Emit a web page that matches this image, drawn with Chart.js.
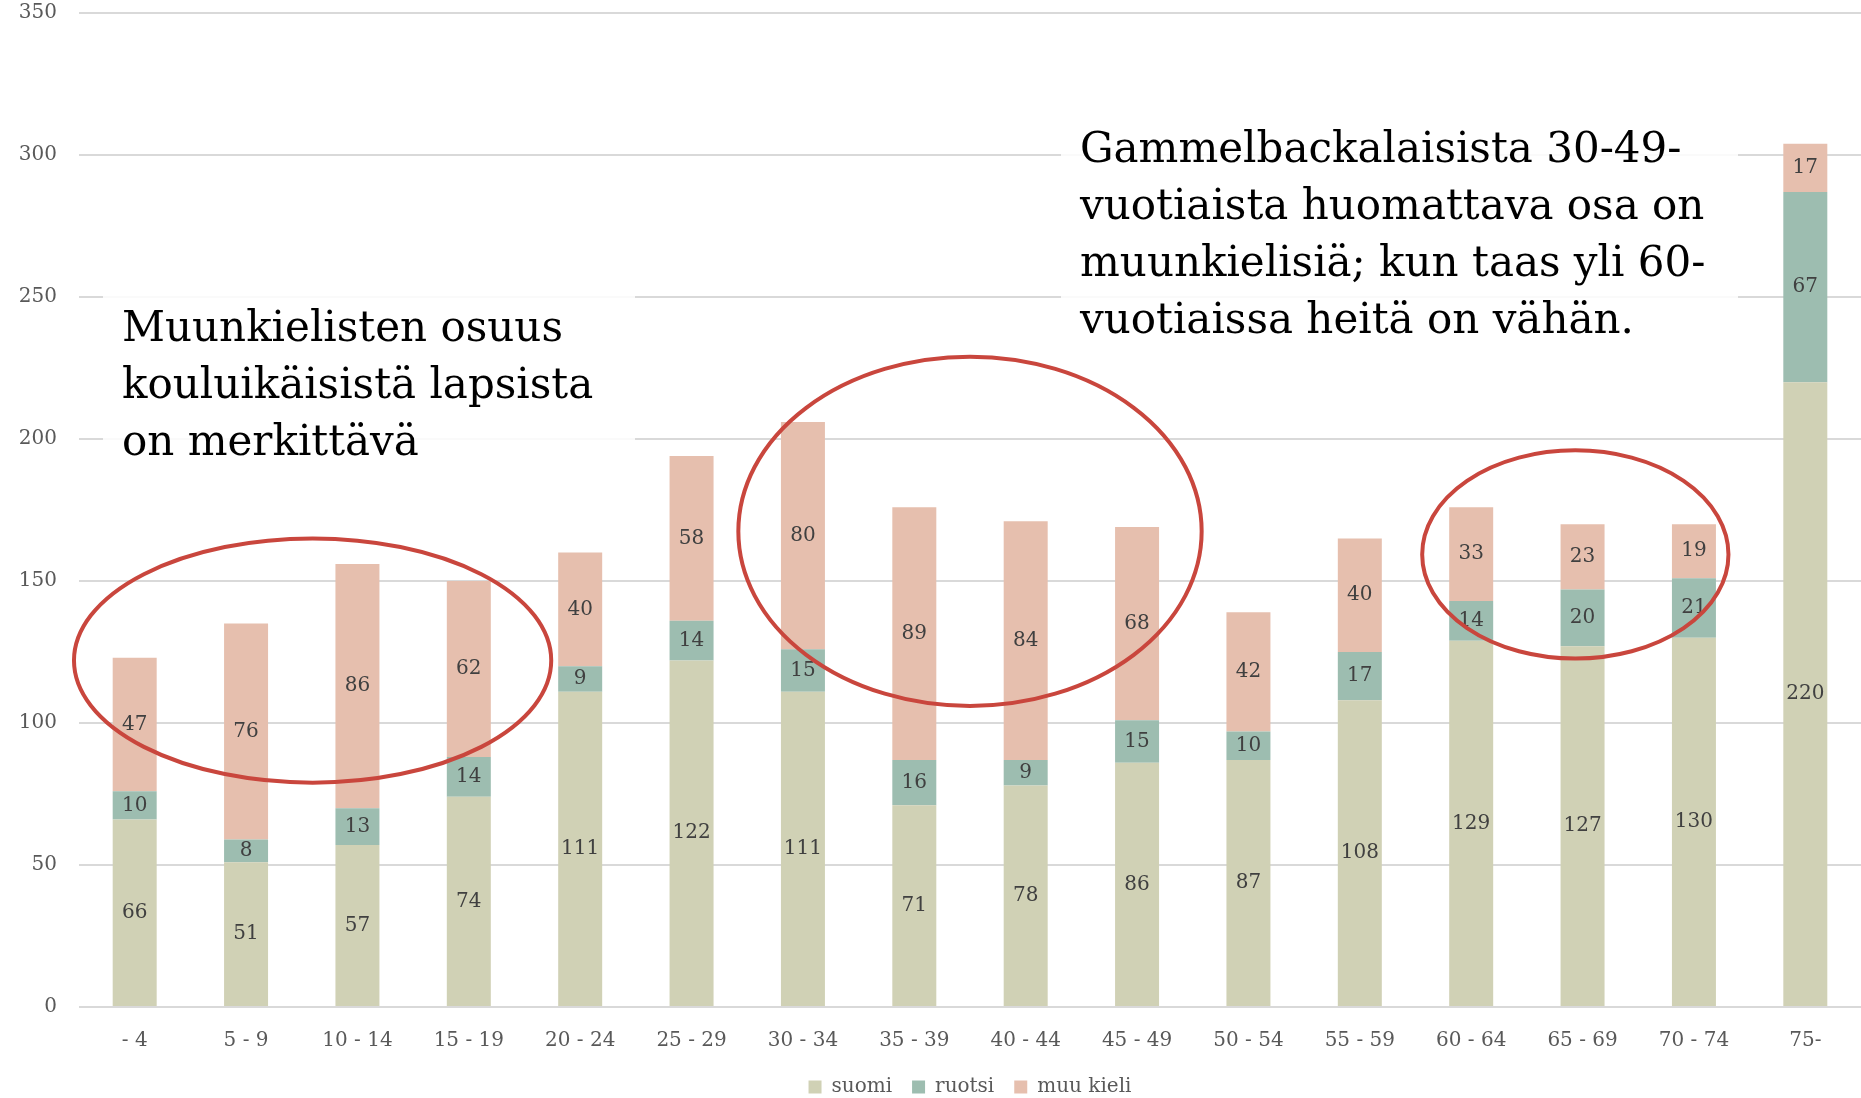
<!DOCTYPE html>
<html>
<head>
<meta charset="utf-8">
<script src="https://cdn.jsdelivr.net/npm/chart.js@4/dist/chart.umd.min.js"></script>
<style>
  html, body { margin: 0; padding: 0; background: #fff; }
  #wrap { width: 1861px; height: 1098px; }
</style>
</head>
<body>
<div id="wrap"><canvas id="chart"></canvas></div>
<script>
const ageGroups = ["- 4", "5 - 9", "10 - 14", "15 - 19", "20 - 24", "25 - 29", "30 - 34", "35 - 39",
  "40 - 44", "45 - 49", "50 - 54", "55 - 59", "60 - 64", "65 - 69", "70 - 74", "75-"];
const suomi = [66, 51, 57, 74, 111, 122, 111, 71, 78, 86, 87, 108, 129, 127, 130, 220];
const ruotsi = [10, 8, 13, 14, 9, 14, 15, 16, 9, 15, 10, 17, 14, 20, 21, 67];
const muuKieli = [47, 76, 86, 62, 40, 58, 80, 89, 84, 68, 42, 40, 33, 23, 19, 17];
const yMax = 350;
const yStep = 50;

const noteLeft = ["Muunkielisten osuus", "kouluikäisistä lapsista", "on merkittävä"];
const noteRight = ["Gammelbackalaisista 30-49-", "vuotiaista huomattava osa on",
  "muunkielisiä; kun taas yli 60-", "vuotiaissa heitä on vähän."];

const serif = "'DejaVu Serif', Georgia, serif";
Chart.defaults.font.family = serif;
Chart.defaults.color = "#595959";

// ellipses given as [fromIndex, toIndex, lowValue, highValue]
const rings = [
  [-0.545, 3.74, 79, 165],
  [5.42, 9.58, 106, 229],
  [11.56, 14.31, 122.7, 196],
];

const overlay = {
  id: "overlay",
  beforeDatasetsDraw(chart) {
    const c = chart.ctx;
    c.save();
    c.fillStyle = "rgba(255,255,255,0.85)";
    c.fillRect(103, 284, 532, 188);
    c.fillRect(1061, 116, 677, 232);
    c.restore();
  },
  afterDatasetsDraw(chart) {
    const c = chart.ctx;
    c.save();
    // values inside the bars
    c.font = "20px " + serif;
    c.fillStyle = "#404040";
    c.textAlign = "center";
    c.textBaseline = "middle";
    chart.data.datasets.forEach((ds, i) => {
      chart.getDatasetMeta(i).data.forEach((bar, j) => {
        c.fillText(ds.data[j], bar.x, (bar.y + bar.base) / 2);
      });
    });

    // red rings
    const xs = chart.scales.x, ys = chart.scales.y;
    c.strokeStyle = "#c9463d";
    c.lineWidth = 4;
    rings.forEach(([a, b, lo, hi]) => {
      const x1 = xs.getPixelForValue(a), x2 = xs.getPixelForValue(b);
      const y1 = ys.getPixelForValue(hi), y2 = ys.getPixelForValue(lo);
      c.beginPath();
      c.ellipse((x1 + x2) / 2, (y1 + y2) / 2, (x2 - x1) / 2, (y2 - y1) / 2, 0, 0, Math.PI * 2);
      c.stroke();
    });

    // notes
    c.font = "42px " + serif;
    c.fillStyle = "#000";
    c.textAlign = "left";
    noteLeft.forEach((t, k) => c.fillText(t, 122, 330 + k * 57));
    noteRight.forEach((t, k) => c.fillText(t, 1080, 151 + k * 57));
    c.restore();
  },
};

new Chart(document.getElementById("chart"), {
  type: "bar",
  data: {
    labels: ageGroups,
    datasets: [
      { label: "suomi", data: suomi, backgroundColor: "#d0d1b5" },
      { label: "ruotsi", data: ruotsi, backgroundColor: "#9dbdb0" },
      { label: "muu kieli", data: muuKieli, backgroundColor: "#e6bfae" },
    ],
  },
  options: {
    responsive: true,
    maintainAspectRatio: false,
    animation: false,
    categoryPercentage: 1,
    barPercentage: 0.395,
    layout: { padding: { top: 13, right: 0, left: 0, bottom: -9 } },
    plugins: {
      legend: {
        position: "bottom",
        fullSize: false,
        labels: { boxWidth: 13, boxHeight: 13, padding: 20, font: { size: 20 }, color: "#595959" },
      },
      tooltip: { enabled: false },
    },
    scales: {
      x: {
        stacked: true,
        grid: { display: false },
        border: { display: false },
        ticks: { padding: 14, font: { size: 20 }, color: "#595959", maxRotation: 0 },
        afterFit: (s) => { s.height = 50; },
      },
      y: {
        stacked: true,
        min: 0,
        max: yMax,
        grid: { color: "#d9d9d9", lineWidth: 2, drawTicks: true, tickLength: 22, tickColor: "rgba(0,0,0,0)" },
        border: { display: false },
        ticks: { stepSize: yStep, padding: 0, font: { size: 20 }, color: "#595959" },
        afterFit: (s) => { s.width = 79; },
      },
    },
  },
  plugins: [overlay],
});
</script>
</body>
</html>
